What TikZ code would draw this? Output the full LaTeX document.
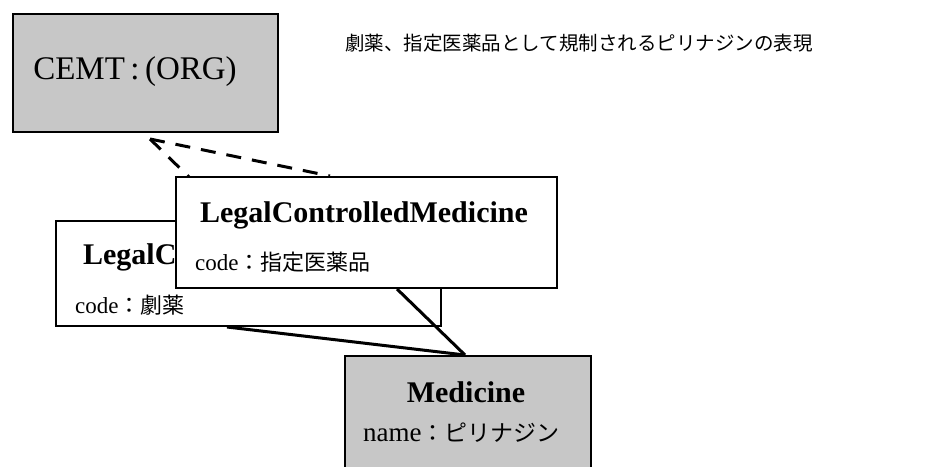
\documentclass[tikz,border=0pt]{standalone}
\usepackage{fontspec}
\setmainfont{Liberation Serif}
\newfontfamily\cjk{Noto Sans CJK JP}
\usetikzlibrary{calc}
\begin{document}
\begin{tikzpicture}[x=1pt,y=-1pt,
  box/.style={draw, line width=2pt, anchor=north west, inner sep=0pt},
  greybox/.style={box, fill=black!22},
  whitebox/.style={box, fill=white},
  ttl/.style={font=\bfseries\fontsize{30}{32}\selectfont, inner sep=0pt},
  attr/.style={anchor=west, inner sep=0pt, font=\fontsize{23}{25}\selectfont},
  conn/.style={line width=3pt},
  gen/.style={line width=3pt, dash pattern=on 15pt off 11pt}]
\useasboundingbox (0,0) rectangle (926,466);
\fill[white] (0,0) rectangle (926,466);
\begin{scope}
\clip (0,0) rectangle (926,466);
% CEMT box
\node[greybox, minimum width=265pt, minimum height=118pt] (cemt) at (12,13) {};
\node[inner sep=0pt, font=\fontsize{33}{35}\selectfont] (cemtt) at (135,72) {CEMT\,:\,(ORG)};
\coordinate (tip) at ($(cemt.south west)+(138,6)$);
% caption
\node[anchor=west, inner sep=0pt, font=\cjk\fontsize{19.5}{22}\selectfont] (cap) at (345,43) {劇薬、指定医薬品として規制されるピリナジンの表現};
% Medicine anchor point (box drawn last)
\coordinate (mtop) at (465,355);
% LegalControlledMedicine (劇薬)
\node[whitebox, minimum width=385pt, minimum height=105pt] (lc1) at (55,220) {};
\node[ttl] (lc1t) at (247,257) {LegalControlledMedicine};
\node[attr] (lc1a) at (75,305) {code{\cjk\fontsize{22}{24}\selectfont ：劇薬}};
\draw[conn] ($(lc1.south west)+(172,0)$) -- (mtop);
\draw[gen] (tip) -- ($(lc1.north west)+(178,0)$);
% LegalControlledMedicine (指定医薬品)
\node[whitebox, minimum width=381pt, minimum height=111pt] (lc2) at (175,176) {};
\node[ttl] (lc2t) at (364,215) {LegalControlledMedicine};
\node[attr] (lc2a) at (195,262) {code{\cjk\fontsize{22}{24}\selectfont ：指定医薬品}};
\draw[conn] ($(lc2.south west)+(222,0)$) -- (mtop);
\draw[gen] (tip) -- ($(lc2.north west)+(155,0)$);
% Medicine
\node[greybox, minimum width=246pt, minimum height=130pt] (med) at (344,355) {};
\node[ttl] (medt) at (466,392) {Medicine};
\node[attr, font=\fontsize{27}{29}\selectfont] (meda) at (363,433) {name{\cjk\fontsize{23}{25}\selectfont ：ピリナジン}};
\end{scope}
\end{tikzpicture}
\end{document}
